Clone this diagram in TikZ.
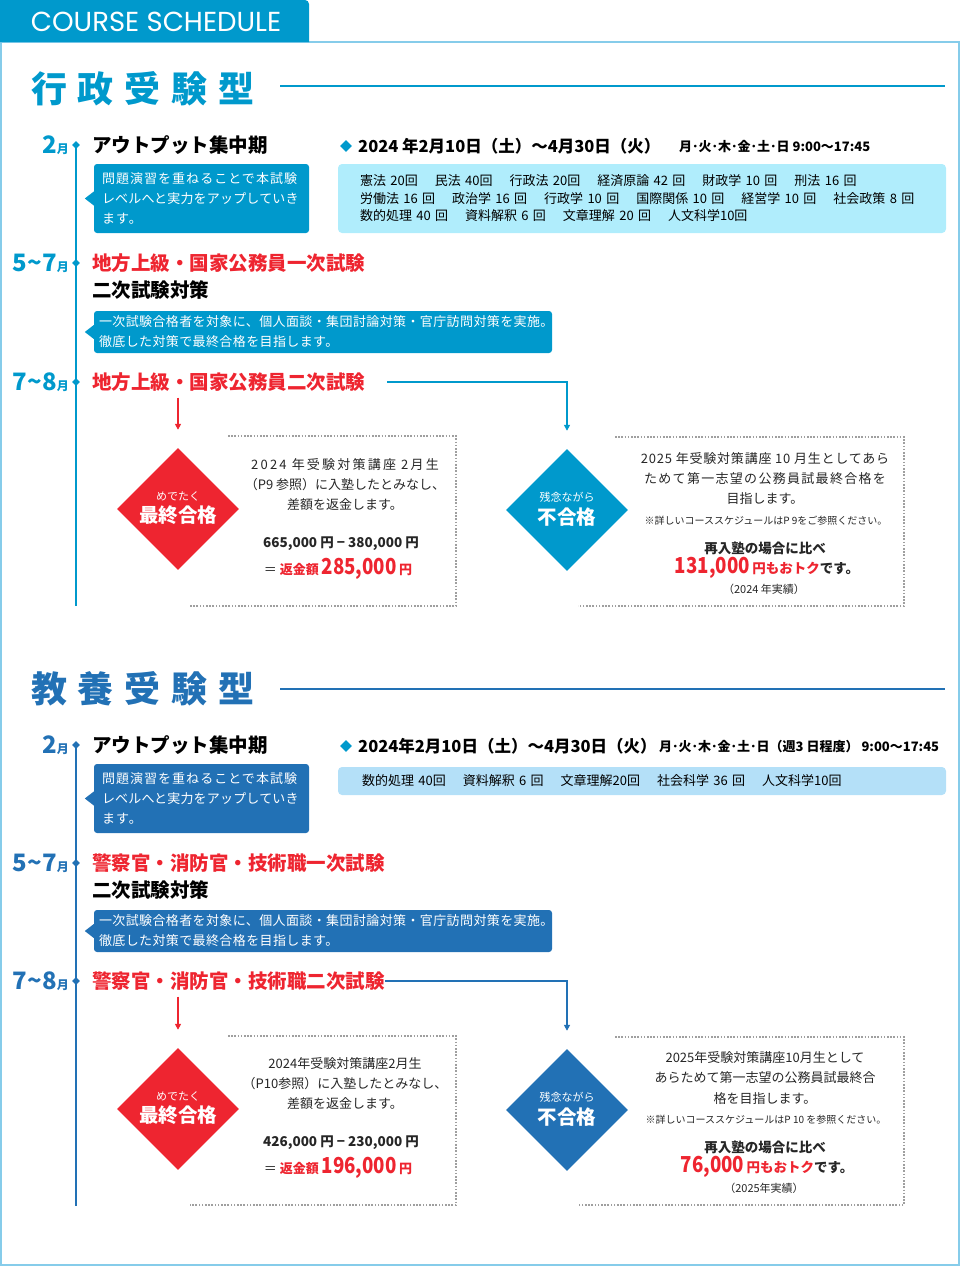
\documentclass[tikz,border=0pt]{standalone}
\usepackage{graphicx}
\usepackage{fontspec}
\setmainfont{Noto Sans CJK JP}
\newfontfamily\enfont{Poppins}
\usetikzlibrary{shapes.geometric,arrows.meta}
\definecolor{cyanb}{HTML}{0099CC}
\definecolor{navyb}{HTML}{2271B5}
\definecolor{redc}{HTML}{EE2530}
\definecolor{skyA}{HTML}{B0EDFC}
\definecolor{skyB}{HTML}{B4E0F8}
\definecolor{framec}{HTML}{86CCEA}
\newcommand{\fsz}[2]{\fontsize{#1}{#2}\selectfont}
\newcommand{\gap}{\hspace{17pt}}
\newcommand{\mon}[1]{{\fsz{24}{24}#1\fsz{12}{12}月}}
\newcommand{\bignum}[1]{\scalebox{0.85}[1]{\fsz{22}{24}#1}\hspace{2.5pt}}
\newcommand{\trk}[2]{{\addfontfeatures{LetterSpace=#1}#2}}

\begin{document}
\begin{tikzpicture}[x=1pt,y=-1pt,
        every node/.style={inner sep=0pt},
        title/.style={anchor=west, text=#1, font=\fsz{36}{40}\bfseries\addfontfeatures{LetterSpace=30}},
        head/.style={anchor=west, font=\fsz{19.5}{24}\bfseries},
        month/.style={anchor=east, text=#1, font=\bfseries},
        tldot/.style={diamond, fill=#1, minimum size=8pt},
        callout/.style={fill=#1, text=white, rounded corners=3pt, align=left, inner xsep=8pt, font=\fsz{13}{20}},
        sched/.style={fill=#1, rounded corners=4pt, align=left, inner xsep=22pt, text width=564pt, font=\fsz{13}{17.5}},
        datehead/.style={anchor=west, font=\fsz{16.5}{20}\bfseries},
        hours/.style={anchor=west, font=\fsz{13}{16}\bfseries},
        result/.style={diamond, fill=#1, minimum width=122pt, minimum height=122pt},
        resulttext/.style={align=center, text=white},
        info/.style={align=center, text=black!85, font=\fsz{13}{20}},
        dotbox/.style={gray!75, line width=1.6pt, dash pattern=on 1.6pt off 1.6pt},
        tline/.style={#1, line width=1.5pt},
        flow/.style={#1, line width=1.5pt, -{Triangle[length=6pt,width=6pt]}}]
    \useasboundingbox (0,0) rectangle (961,1267);
    % frame and tab
    \draw[framec, line width=2pt] (1,42) rectangle (959,1265);
    \fill[cyanb] (0,42) -- (0,0) [rounded corners=4pt]-- (309,0) [sharp corners]-- (309,42) -- cycle;
    \node[text=white, font=\enfont\fsz{27.5}{30}] (tab) at (156,22) {COURSE SCHEDULE};

    % ---- 行政受験型
    \node[title=cyanb] (t1) at (31,89) {行政受験型};
    \coordinate (r1a) at (280,86);
    \coordinate (r1b) at (945,86);
    \draw[tline=cyanb] (r1a) -- (r1b);

    \node[tldot=cyanb] (d11) at (76,145) {};
    \node[tldot=cyanb] (d12) at (76,263) {};
    \node[tldot=cyanb] (d13) at (76,382) {};
    \coordinate (d1end) at (76,606);
    \draw[tline=cyanb] (d11.center) -- (d1end);
    \node[month=cyanb] (m11) at (69,145) {\mon{2}};
    \node[month=cyanb] (m12) at (69,263) {\mon{5\textasciitilde 7}};
    \node[month=cyanb] (m13) at (69,382) {\mon{7\textasciitilde 8}};

    \node[head] (h11) at (92,145) {アウトプット集中期};
    \node[callout=cyanb, text width=199pt, minimum height=69pt] (c11) at (201.5,198.5) {\trk{8}{問題演習を重ねることで本試験}\\\trk{1.5}{レベルへと実力をアップしていき}\\\trk{8}{ます。}};
    \fill[cyanb] ([yshift=7pt]c11.west) -- ([xshift=-9pt]c11.west) -- ([yshift=-7pt]c11.west) -- cycle;

    \node[diamond, fill=cyanb, minimum size=12pt] (dm1) at (346,146) {};
    \node[datehead] (dt1) at (358,146) {2024 年2月10日（土）～4月30日（火）};
    \node[hours] (hr1) at (679,147) {月･火･木･金･土･日 9:00～17:45};
    \node[sched=skyA, minimum height=69pt] (s1) at (642,198.5) {憲法 20回\gap 民法 40回\gap 行政法 20回\gap 経済原論 42 回\gap 財政学 10 回\gap 刑法 16 回\\労働法 16 回\gap 政治学 16 回\gap 行政学 10 回\gap 国際関係 10 回\gap 経営学 10 回\gap 社会政策 8 回\\数的処理 40 回\gap 資料解釈 6 回\gap 文章理解 20 回\gap 人文科学10回};

    \node[head, text=redc] (h12) at (92,263) {地方上級・国家公務員一次試験};
    \node[head] (h12b) at (92,290) {二次試験対策};
    \node[callout=cyanb, inner xsep=5pt, text width=448pt, minimum height=42pt, font=\fsz{13}{20}\addfontfeatures{LetterSpace=3}] (c12) at (323,332) {一次試験合格者を対象に、個人面談・集団討論対策・官庁訪問対策を実施。\\徹底した対策で最終合格を目指します。};
    \fill[cyanb] ([yshift=7pt]c12.west) -- ([xshift=-9pt]c12.west) -- ([yshift=-7pt]c12.west) -- cycle;

    \node[head, text=redc] (h13) at (92,382) {地方上級・国家公務員二次試験};
    \node[result=redc] (p1) at (178,509) {};
    \node[resulttext] (p1lbl) at (178,508) {\fsz{11}{14}めでたく\\[4pt]\fsz{19.5}{22}\bfseries 最終合格};
    \node[result=cyanb] (f1) at (567,510) {};
    \node[resulttext] (f1lbl) at (567,509) {\fsz{11}{14}残念ながら\\[4pt]\fsz{19.5}{22}\bfseries 不合格};
    \draw[flow=redc] (p1.north |- h13.south) ++(0,6) -- ([yshift=18pt]p1.north);
    \draw[flow=cyanb] ([xshift=22pt]h13.east) -| ([yshift=18pt]f1.north);

    \draw[dotbox] (228,436) -| (456,606) -- (190,606);
    \node[info] (p1txt) at (345,485) {\trk{17}{2024 年受験対策講座 2月生}\\（P9 参照）に入塾したとみなし、\\差額を返金します。};
    \node[info, font=\fsz{13.5}{16}\bfseries] (p1calc) at (341,544) {665,000 円 − 380,000 円};
    \node[info] (p1sum) at (338,569) {＝ \textcolor{redc}{\bfseries 返金額 \bignum{285,000}円}};

    \draw[dotbox] (615,437) -| (904,606) -- (578,606);
    \node[info] (f1txt) at (765,479) {\trk{6}{2025 年受験対策講座 10 月生としてあら}\\\trk{10}{ためて第一志望の公務員試最終合格を}\\目指します。};
    \node[info, font=\fsz{10}{12}] (f1note) at (766,521) {※詳しいコーススケジュールはP 9をご参照ください。};
    \node[info, font=\fsz{13.5}{16}\bfseries] (f1cmp) at (765,548) {再入塾の場合に比べ};
    \node[info, font=\fsz{13.5}{16}\bfseries] (f1save) at (767,568) {\textcolor{redc}{\bignum{131,000}\fsz{13.5}{16}円もおトク}です。};
    \node[info, font=\fsz{11}{13}] (f1year) at (764,589) {（2024 年実績）};

    % ---- 教養受験型
    \node[title=navyb] (t2) at (31,689) {教養受験型};
    \coordinate (r2a) at (280,689);
    \coordinate (r2b) at (945,689);
    \draw[tline=navyb] (r2a) -- (r2b);

    \node[tldot=navyb] (d21) at (76,745) {};
    \node[tldot=navyb] (d22) at (76,863) {};
    \node[tldot=navyb] (d23) at (76,981) {};
    \coordinate (d2end) at (76,1206);
    \draw[tline=navyb] (d21.center) -- (d2end);
    \node[month=navyb] (m21) at (69,745) {\mon{2}};
    \node[month=navyb] (m22) at (69,863) {\mon{5\textasciitilde 7}};
    \node[month=navyb] (m23) at (69,981) {\mon{7\textasciitilde 8}};

    \node[head] (h21) at (92,745) {アウトプット集中期};
    \node[callout=navyb, text width=199pt, minimum height=69pt] (c21) at (201.5,798.5) {\trk{8}{問題演習を重ねることで本試験}\\\trk{1.5}{レベルへと実力をアップしていき}\\\trk{8}{ます。}};
    \fill[navyb] ([yshift=7pt]c21.west) -- ([xshift=-9pt]c21.west) -- ([yshift=-7pt]c21.west) -- cycle;

    \node[diamond, fill=cyanb, minimum size=12pt] (dm2) at (346,746) {};
    \node[datehead] (dt2) at (358,746) {2024年2月10日（土）～4月30日（火）};
    \node[hours] (hr2) at (659,747) {月･火･木･金･土･日（週3 日程度） 9:00～17:45};
    \node[sched=skyB, inner xsep=24pt, text width=560pt, minimum height=28pt] (s2) at (642,781) {数的処理 40回\gap 資料解釈 6 回\gap 文章理解20回\gap 社会科学 36 回\gap 人文科学10回};

    \node[head, text=redc] (h22) at (92,863) {警察官・消防官・技術職一次試験};
    \node[head] (h22b) at (92,890) {二次試験対策};
    \node[callout=navyb, inner xsep=5pt, text width=448pt, minimum height=42pt, font=\fsz{13}{20}\addfontfeatures{LetterSpace=3}] (c22) at (323,931) {一次試験合格者を対象に、個人面談・集団討論対策・官庁訪問対策を実施。\\徹底した対策で最終合格を目指します。};
    \fill[navyb] ([yshift=7pt]c22.west) -- ([xshift=-9pt]c22.west) -- ([yshift=-7pt]c22.west) -- cycle;

    \node[head, text=redc] (h23) at (92,981) {警察官・消防官・技術職二次試験};
    \node[result=redc] (p2) at (178,1109) {};
    \node[resulttext] (p2lbl) at (178,1108) {\fsz{11}{14}めでたく\\[4pt]\fsz{19.5}{22}\bfseries 最終合格};
    \node[result=navyb] (f2) at (567,1110) {};
    \node[resulttext] (f2lbl) at (567,1109) {\fsz{11}{14}残念ながら\\[4pt]\fsz{19.5}{22}\bfseries 不合格};
    \draw[flow=redc] (p2.north |- h23.south) ++(0,6) -- ([yshift=18pt]p2.north);
    \draw[flow=navyb] (h23.east) -| ([yshift=18pt]f2.north);

    \draw[dotbox] (228,1036) -| (456,1205) -- (190,1205);
    \node[info] (p2txt) at (345,1084) {2024年受験対策講座2月生\\（P10参照）に入塾したとみなし、\\差額を返金します。};
    \node[info, font=\fsz{13.5}{16}\bfseries] (p2calc) at (341,1143) {426,000 円 − 230,000 円};
    \node[info] (p2sum) at (338,1168) {＝ \textcolor{redc}{\bfseries 返金額 \bignum{196,000}円}};

    \draw[dotbox] (615,1037) -| (904,1205) -- (578,1205);
    \node[info, font=\fsz{13}{20.5}] (f2txt) at (765,1078) {2025年受験対策講座10月生として\\あらためて第一志望の公務員試最終合\\格を目指します。};
    \node[info, font=\fsz{10}{12}] (f2note) at (766,1120) {※詳しいコーススケジュールはP 10 を参照ください。};
    \node[info, font=\fsz{13.5}{16}\bfseries] (f2cmp) at (765,1147) {再入塾の場合に比べ};
    \node[info, font=\fsz{13.5}{16}\bfseries] (f2save) at (767,1167) {\textcolor{redc}{\bignum{76,000}\fsz{13.5}{16}円もおトク}です。};
    \node[info, font=\fsz{11}{13}] (f2year) at (764,1188) {（2025年実績）};
\end{tikzpicture}
\end{document}
